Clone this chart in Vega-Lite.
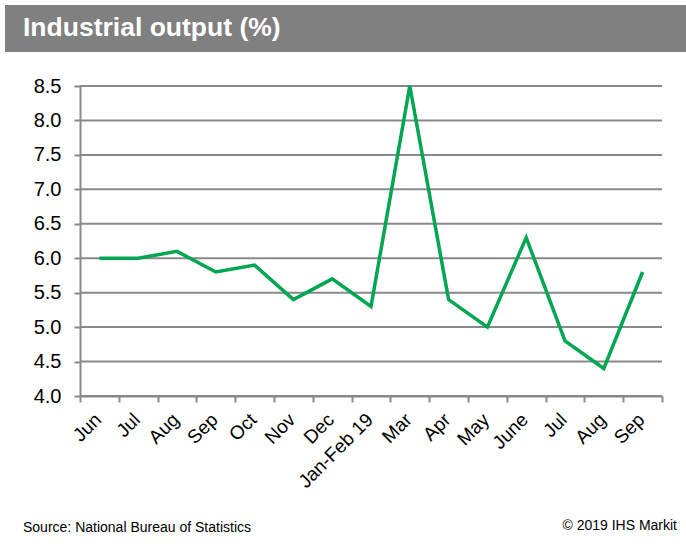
{
  "$schema": "https://vega.github.io/schema/vega-lite/v6.json",
  "padding": {"left": 5, "top": 5, "right": 0, "bottom": 0},
  "background": "white",
  "spacing": 24,
  "config": {"font": "Liberation Sans", "view": {"stroke": null}},
  "title": {"text": "© 2019 IHS Markit", "orient": "bottom", "anchor": "end", "offset": -16, "dx": -9, "fontSize": 14, "fontWeight": "normal", "color": "#000000", "font": "Liberation Sans"},
  "vconcat": [
    {
      "width": 681,
      "height": 47,
      "view": {"fill": "#808080", "stroke": null},
      "title": {"text": "Industrial output (%)", "orient": "top", "anchor": "start", "frame": "group", "offset": -57, "dx": 18, "baseline": "alphabetic", "color": "#ffffff", "fontSize": 26.5, "fontWeight": "bold", "font": "Liberation Sans"},
      "data": {"values": [{"t": ""}]},
      "mark": {"type": "text"},
      "encoding": {"text": {"field": "t"}}
    },
    {
      "width": 657,
      "height": 310,
      "title": {"text": "Source: National Bureau of Statistics", "orient": "bottom", "anchor": "start", "frame": "bounds", "offset": 30, "dx": 18, "fontSize": 14, "fontWeight": "normal", "color": "#000000", "font": "Liberation Sans"},
      "resolve": {"scale": {"x": "independent"}},
      "layer": [
        {
          "data": {"values": [
            {"value": 4.0}, {"value": 4.5}, {"value": 5.0}, {"value": 5.5}, {"value": 6.0},
            {"value": 6.5}, {"value": 7.0}, {"value": 7.5}, {"value": 8.0}, {"value": 8.5}
          ]},
          "mark": {"type": "rule", "color": "#898989", "strokeWidth": 2},
          "encoding": {
            "y": {"field": "value", "type": "quantitative", "scale": {"domain": [4, 8.5], "nice": false, "zero": false},
                  "axis": {"title": null, "values": [4, 4.5, 5, 5.5, 6, 6.5, 7, 7.5, 8, 8.5], "format": ".1f", "grid": false, "offset": -75,
                           "labelOverlap": false, "domainColor": "#898989", "domainWidth": 2,
                           "tickColor": "#898989", "tickWidth": 2, "tickSize": 6,
                           "labelFontSize": 20, "labelColor": "#000000", "labelPadding": 13, "labelFont": "Liberation Sans"}},
            "x": {"datum": 0, "type": "quantitative", "scale": {"domain": [0, 1], "range": [75, 657]}, "axis": null},
            "x2": {"datum": 1}
          }
        },
        {
          "data": {"values": [
            {"period": "Jun|2018", "value": 6.0},
            {"period": "Jul|2018", "value": 6.0},
            {"period": "Aug|2018", "value": 6.1},
            {"period": "Sep|2018", "value": 5.8},
            {"period": "Oct|2018", "value": 5.9},
            {"period": "Nov|2018", "value": 5.4},
            {"period": "Dec|2018", "value": 5.7},
            {"period": "Jan-Feb 19|2019", "value": 5.3},
            {"period": "Mar|2019", "value": 8.5},
            {"period": "Apr|2019", "value": 5.4},
            {"period": "May|2019", "value": 5.0},
            {"period": "June|2019", "value": 6.3},
            {"period": "Jul|2019", "value": 4.8},
            {"period": "Aug|2019", "value": 4.4},
            {"period": "Sep|2019", "value": 5.8}
          ]},
          "mark": {"type": "line", "color": "#00A651", "strokeWidth": 3.5},
          "encoding": {
            "x": {
              "field": "period", "type": "ordinal", "sort": null,
              "scale": {"type": "band", "paddingInner": 0, "paddingOuter": 0, "range": [75, 657]},
              "axis": {"title": null, "labelExpr": "split(datum.label, '|')[0]", "labelAngle": -45, "tickBand": "extent", "grid": false,
                       "domainColor": "#898989", "domainWidth": 2, "tickColor": "#898989", "tickWidth": 2, "tickSize": 6,
                       "labelFontSize": 19, "labelColor": "#000000", "labelPadding": 8, "labelOffset": -8, "labelFont": "Liberation Sans"}
            },
            "y": {
              "field": "value", "type": "quantitative",
              "scale": {"domain": [4, 8.5], "nice": false, "zero": false},
              "axis": {"title": null, "values": [4, 4.5, 5, 5.5, 6, 6.5, 7, 7.5, 8, 8.5], "format": ".1f", "grid": false, "offset": -75,
                       "labelOverlap": false, "domainColor": "#898989", "domainWidth": 2,
                       "tickColor": "#898989", "tickWidth": 2, "tickSize": 6,
                       "labelFontSize": 20, "labelColor": "#000000", "labelPadding": 13, "labelFont": "Liberation Sans"}
            }
          }
        }
      ]
    }
  ]
}
